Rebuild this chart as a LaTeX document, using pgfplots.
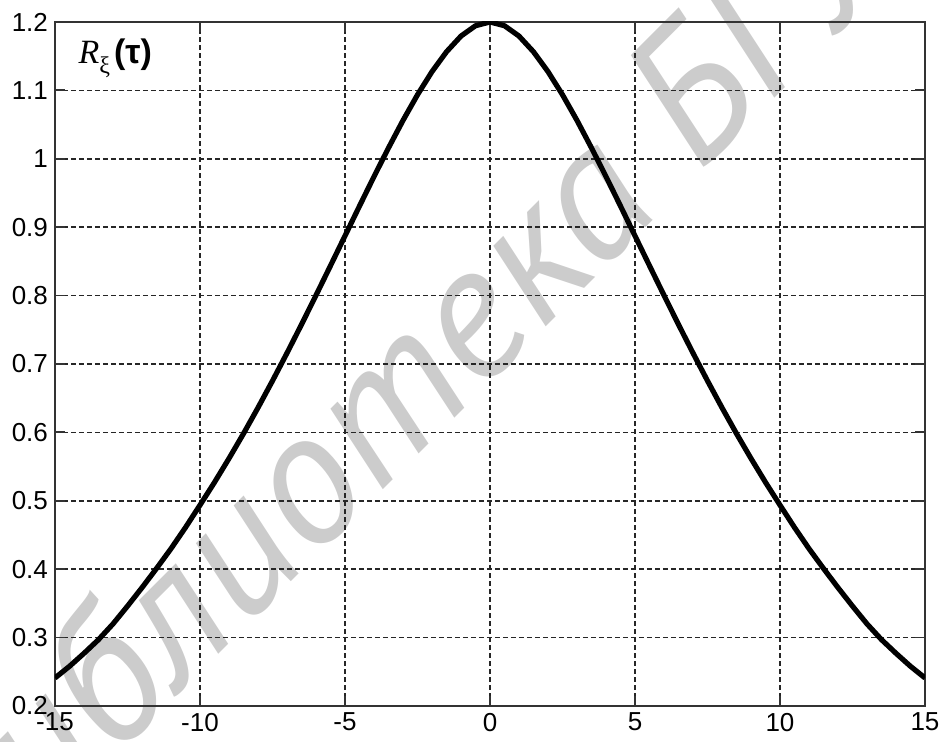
\documentclass[border=0pt]{standalone}
\usepackage{fontspec}
\usepackage{pgfplots}
\pgfplotsset{compat=1.18}
\setmainfont{Liberation Sans}
\newfontfamily\seriffont{Liberation Serif}
\newfontfamily\wmfont{PT Sans}
\newfontfamily\taufont{DejaVu Sans}
\begin{document}
\begin{tikzpicture}
\useasboundingbox (-27.5pt,-18pt) rectangle (442pt,353pt);
\node[rotate=45, anchor=base west, inner sep=0, text=black!20,
  font=\fontsize{94}{94}\selectfont\wmfont\itshape] at (-39pt,-95pt) {Библиотека БГУИР};
\begin{axis}[
  at={(0pt,0pt)}, anchor=south west,
  scale only axis, width=435pt, height=342pt,
  xmin=-15, xmax=15, ymin=0.2, ymax=1.2,
  xtick={-15,-10,-5,0,5,10,15},
  ytick={0.2,0.3,0.4,0.5,0.6,0.7,0.8,0.9,1,1.1,1.2},
  yticklabel style={/pgf/number format/fixed, /pgf/number format/precision=1},
  /pgf/number format/assume math mode=true,
  tick label style={font=\fontsize{13}{15}\selectfont},
  tick align=inside, major tick length=5pt,
  xtick pos=both, ytick pos=both,
  tick style={black!80, line width=0.9pt},
  axis line style={black!80, line width=0.9pt},
  grid=major,
  major grid style={black!85, line width=0.85pt, dash pattern=on 2.4pt off 1.6pt},
]
\addplot[black, line width=2.6pt, line join=round] table {
-15 0.241
-14.5 0.258
-14 0.277
-13.5 0.297
-13 0.320
-12.5 0.346
-12 0.373
-11.5 0.401
-11 0.430
-10.5 0.461
-10 0.4937
-9.5 0.5270
-9 0.5619
-8.5 0.5982
-8 0.6361
-7.5 0.6754
-7 0.7160
-6.5 0.7577
-6 0.8004
-5.5 0.8437
-5 0.8873
-4.5 0.9309
-4 0.9740
-3.5 1.0159
-3 1.0561
-2.5 1.0936
-2 1.1274
-1.5 1.1564
-1 1.1794
-0.5 1.1945
0 1.2
0.5 1.1945
1 1.1794
1.5 1.1564
2 1.1274
2.5 1.0936
3 1.0561
3.5 1.0159
4 0.9740
4.5 0.9309
5 0.8873
5.5 0.8437
6 0.8004
6.5 0.7577
7 0.7160
7.5 0.6754
8 0.6361
8.5 0.5982
9 0.5619
9.5 0.5270
10 0.4937
10.5 0.461
11 0.430
11.5 0.401
12 0.373
12.5 0.346
13 0.320
13.5 0.297
14 0.277
14.5 0.258
15 0.241
};
\node[anchor=base west, inner sep=0] at (axis cs:-14.2,1.14)
  {\fontsize{17}{17}\selectfont\seriffont\itshape R\raisebox{-5.4pt}{\fontsize{12}{12}\selectfont\upshape ξ}\hspace{2pt}\fontsize{17}{17}\selectfont\rmfamily\upshape\bfseries (τ)};
\node[anchor=north, inner sep=0, yshift=-7pt] at (axis cs:12.41,0.2)
  {\fontsize{14}{14}\selectfont\taufont\bfseries τ};
\end{axis}
\end{tikzpicture}
\end{document}
